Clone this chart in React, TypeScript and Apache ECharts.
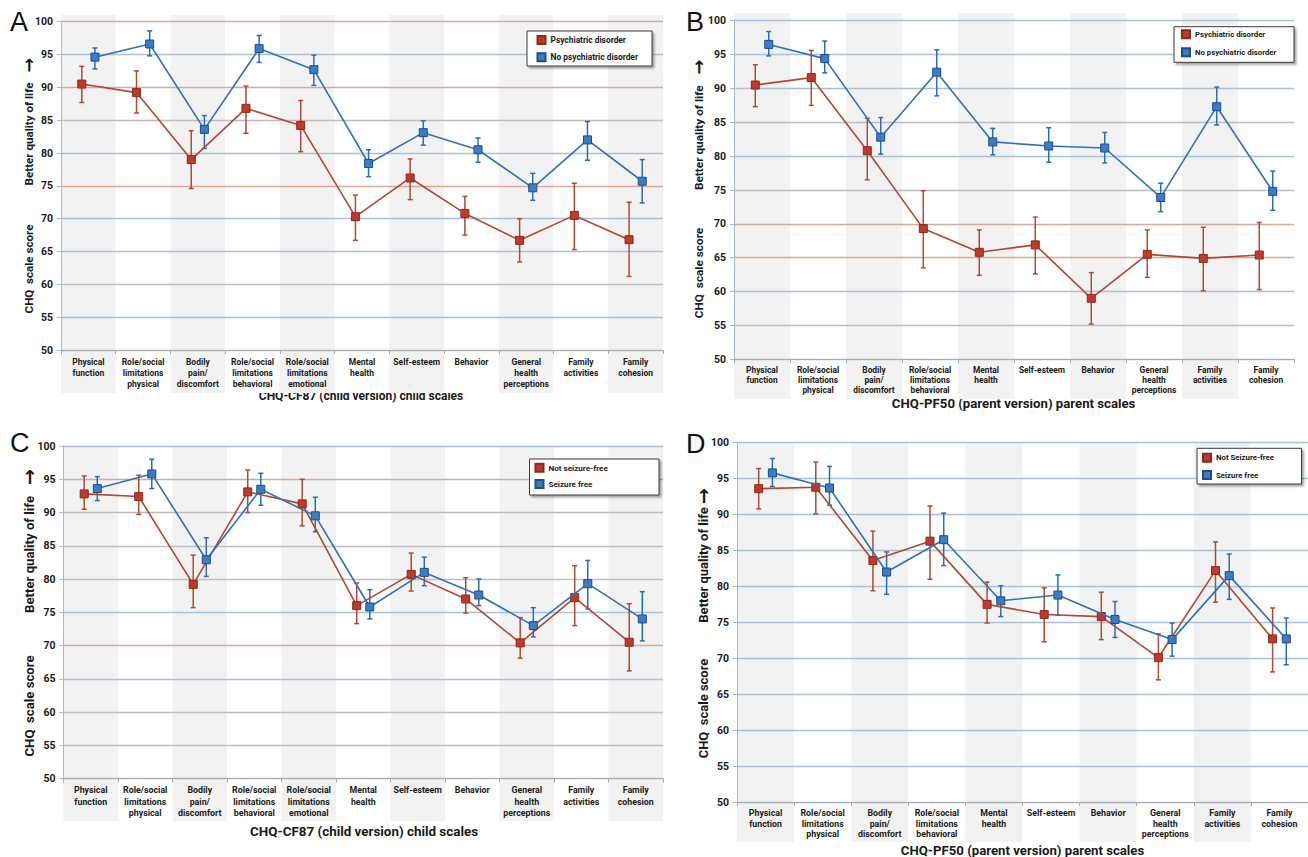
import React, { useEffect, useRef } from "react";
import * as echarts from "echarts";

// ---------- categories ----------
const catsChild = [
  "Physical\nfunction",
  "Role/social\nlimitations\nphysical",
  "Bodily\npain/\ndiscomfort",
  "Role/social\nlimitations\nbehavioral",
  "Role/social\nlimitations\nemotional",
  "Mental\nhealth",
  "Self-esteem",
  "Behavior",
  "General\nhealth\nperceptions",
  "Family\nactivities",
  "Family\ncohesion",
];
const catsParent = [
  "Physical\nfunction",
  "Role/social\nlimitations\nphysical",
  "Bodily\npain/\ndiscomfort",
  "Role/social\nlimitations\nbehavioral",
  "Mental\nhealth",
  "Self-esteem",
  "Behavior",
  "General\nhealth\nperceptions",
  "Family\nactivities",
  "Family\ncohesion",
];
const yTicks = [50, 55, 60, 65, 70, 75, 80, 85, 90, 95, 100];

// ---------- Panel A (CHQ-CF87, psychiatric disorder) ----------
const aRedMean = [90.5, 89.2, 79.0, 86.8, 84.2, 70.3, 76.2, 70.8, 66.7, 70.5, 66.8];
const aRedLow = [87.7, 86.1, 74.6, 83.0, 80.2, 66.7, 72.9, 67.5, 63.4, 65.3, 61.2];
const aRedHigh = [93.2, 92.5, 83.4, 90.2, 88.0, 73.6, 79.1, 73.4, 70.0, 75.4, 72.5];
const aBlueMean = [94.6, 96.6, 83.6, 95.9, 92.7, 78.4, 83.1, 80.5, 74.7, 82.0, 75.7];
const aBlueLow = [92.8, 94.8, 80.7, 93.8, 90.3, 76.4, 81.2, 78.6, 72.8, 78.9, 72.4];
const aBlueHigh = [96.0, 98.6, 85.7, 97.9, 94.9, 80.5, 84.9, 82.3, 76.9, 84.8, 79.0];

// ---------- Panel B (CHQ-PF50, psychiatric disorder) ----------
const bRedMean = [90.5, 91.6, 80.8, 69.3, 65.8, 66.9, 59.0, 65.5, 64.9, 65.4];
const bRedLow = [87.3, 87.5, 76.5, 63.5, 62.4, 62.6, 55.2, 62.1, 60.1, 60.3];
const bRedHigh = [93.5, 95.6, 85.6, 74.9, 69.1, 71.0, 62.8, 69.1, 69.5, 70.2];
const bBlueMean = [96.5, 94.4, 82.8, 92.4, 82.1, 81.5, 81.2, 73.9, 87.3, 74.8];
const bBlueLow = [94.8, 92.3, 80.3, 88.9, 80.2, 79.1, 79.0, 71.8, 84.6, 72.0];
const bBlueHigh = [98.4, 97.0, 85.7, 95.7, 84.1, 84.2, 83.5, 76.0, 90.2, 77.8];

// ---------- Panel C (CHQ-CF87, seizure status) ----------
const cRedMean = [92.8, 92.4, 79.2, 93.1, 91.3, 76.0, 80.7, 77.0, 70.4, 77.2, 70.5];
const cRedLow = [90.5, 89.7, 75.7, 90.0, 88.0, 73.3, 78.2, 74.9, 68.1, 73.0, 66.2];
const cRedHigh = [95.5, 95.6, 83.6, 96.4, 95.0, 79.4, 83.9, 80.2, 74.2, 82.0, 76.3];
const cBlueMean = [93.6, 95.8, 82.9, 93.5, 89.5, 75.8, 81.0, 77.6, 73.0, 79.3, 74.0];
const cBlueLow = [91.8, 93.6, 80.4, 91.1, 87.1, 74.0, 79.0, 76.0, 71.3, 75.5, 70.7];
const cBlueHigh = [95.4, 98.0, 86.2, 95.9, 92.3, 78.4, 83.3, 80.0, 75.7, 82.8, 78.1];

// ---------- Panel D (CHQ-PF50, seizure status) ----------
const dRedMean = [93.6, 93.8, 83.6, 86.3, 77.5, 76.1, 75.8, 70.1, 82.2, 72.7];
const dRedLow = [90.8, 90.1, 79.4, 81.0, 74.9, 72.3, 72.6, 67.0, 77.8, 68.1];
const dRedHigh = [96.4, 97.3, 87.7, 91.2, 80.6, 79.8, 79.2, 73.4, 86.2, 77.0];
const dBlueMean = [95.8, 93.7, 82.0, 86.5, 78.0, 78.8, 75.4, 72.6, 81.5, 72.7];
const dBlueLow = [93.9, 91.3, 78.9, 82.9, 75.8, 76.0, 72.9, 70.3, 78.2, 69.1];
const dBlueHigh = [97.8, 96.7, 84.8, 90.2, 80.1, 81.6, 77.9, 74.9, 84.5, 75.6];

const FONT = "Roboto, 'Noto Sans', 'Liberation Sans', sans-serif";
const W = 700;
const TEXT = "#1a1a1a";
const RED_LINE = "#b5472f";
const RED_FILL = "#c0392b";
const RED_EDGE = "#8a2a1c";
const RED_ERR = "#b04a38";
const BLUE_LINE = "#2e72bd";
const BLUE_FILL = "#3b7dc4";
const BLUE_EDGE = "#1d4e89";
const BLUE_ERR = "#2b6cb5";
const GB = "#a9c2d8"; // blue-grey grid
const GR = "#d9aa9a"; // salmon grid
const GG = "#bcc0c6"; // grey grid

const panels = [
  {
    cats: catsChild,
    red: { name: "Psychiatric disorder", mean: aRedMean, low: aRedLow, high: aRedHigh },
    blue: { name: "No psychiatric disorder", mean: aBlueMean, low: aBlueLow, high: aBlueHigh },
    plot: { left: 61, right: 645, top: 21.7, bottom: 507 },
    bg: { top: 15, bottom: 464 },
    gridColors: [GG, GB, GG, GB, GB, GR, GB, "#c8b9b9", GR, GB, GR],
    legendBox: { x: 527, y: 31, w: 125, h: 35 },
    legend: { left: 536.5, top: 34, gap: 5.3, size: 8.4 },
    letter: { text: "A", x: 10, y: 22 },
    title: { text: "CHQ-CF87 (child version) child scales", x: 361, y: 395.5, size: 12 },
    yname: { x: 29, better: 134, chq: 269, arrow: 65, size: 11.6 },
    catSize: 8.5,
    catLine: 11,
  },
  {
    cats: catsParent,
    red: { name: "Psychiatric disorder", mean: bRedMean, low: bRedLow, high: bRedHigh },
    blue: { name: "No psychiatric disorder", mean: bBlueMean, low: bBlueLow, high: bBlueHigh },
    plot: { left: 734, right: 14, top: 20.7, bottom: 497.7 },
    bg: { top: 13, bottom: 458 },
    gridColors: [GG, GG, GB, GR, GR, GG, GB, "#b4bfca", GB, GB, GB],
    legendBox: { x: 1174, y: 26.7, w: 120, h: 35.6 },
    legend: { left: 1181, top: 28.3, gap: 6, size: 7.8 },
    letter: { text: "B", x: 686, y: 22 },
    title: { text: "CHQ-PF50 (parent version) parent scales", x: 1013.6, y: 403, size: 13.2 },
    yname: { x: 698.5, better: 137.7, chq: 273, arrow: 67, size: 11.8 },
    catSize: 8.4,
    catLine: 10,
  },
  {
    cats: catsChild,
    red: { name: "Not seizure-free", mean: cRedMean, low: cRedLow, high: cRedHigh },
    blue: { name: "Seizure free", mean: cBlueMean, low: cBlueLow, high: cBlueHigh },
    plot: { left: 63.5, right: 645, top: 446, bottom: 78.4 },
    bg: { top: 446, bottom: 36 },
    gridColors: [GG, GG, GG, GB, GR, GB, GG, GG, "#c0b8c4", GR, GB],
    legendBox: { x: 529.5, y: 459, w: 129.5, h: 36 },
    legend: { left: 534.5, top: 461.7, gap: 4.3, size: 8.1 },
    letter: { text: "C", x: 10, y: 443 },
    title: { text: "CHQ-CF87 (child version) child scales", x: 364, y: 831.7, size: 13.4 },
    yname: { x: 29, better: 554.5, chq: 706, arrow: 477, size: 13.2 },
    catSize: 8.8,
    catLine: 11.5,
  },
  {
    cats: catsParent,
    red: { name: "Not Seizure-free", mean: dRedMean, low: dRedLow, high: dRedHigh },
    blue: { name: "Seizure free", mean: dBlueMean, low: dBlueLow, high: dBlueHigh },
    plot: { left: 737, right: -11, top: 442.7, bottom: 55 },
    bg: { top: 443, bottom: 15 },
    gridColors: [GB, GB, GB, GB, GB, GB, GB, GB, GB, GB, GB],
    legendBox: { x: 1197, y: 448.3, w: 104.5, h: 35.7 },
    legend: { left: 1202, top: 451.7, gap: 5.3, size: 7.8 },
    letter: { text: "D", x: 686, y: 444 },
    title: { text: "CHQ-PF50 (parent version) parent scales", x: 1022.5, y: 850, size: 13.2 },
    yname: { x: 703, better: 565, chq: 708.5, arrow: 496, size: 13 },
    catSize: 8.8,
    catLine: 10.5,
  },
];

const OFFSET = 0.12;

function errRender(color: string) {
  return (params: any, api: any) => {
    const x = api.value(0);
    const lo = api.value(1);
    const hi = api.value(2);
    const pt = api.coord([x, hi]);
    const pb = api.coord([x, lo]);
    const w = 2.5;
    const style = { stroke: color, lineWidth: 1.5 };
    return {
      type: "group",
      children: [
        { type: "line", shape: { x1: pt[0], y1: pt[1], x2: pb[0], y2: pb[1] }, style },
        { type: "line", shape: { x1: pt[0] - w, y1: pt[1], x2: pt[0] + w, y2: pt[1] }, style },
        { type: "line", shape: { x1: pb[0] - w, y1: pb[1], x2: pb[0] + w, y2: pb[1] }, style },
      ],
    };
  };
}

function rotText(text: string, x: number, y: number, size: number, family: string) {
  return {
    type: "text",
    x,
    y,
    rotation: Math.PI / 2,
    style: {
      text,
      fontFamily: family,
      fontSize: size,
      fontWeight: W,
      fill: TEXT,
      align: "center",
      verticalAlign: "middle",
    },
  };
}

function buildOption() {
  const grid: any[] = [];
  const xAxis: any[] = [];
  const yAxis: any[] = [];
  const series: any[] = [];
  const legend: any[] = [];
  const graphic: any[] = [];

  panels.forEach((p, k) => {
    const n = p.cats.length;
    grid.push({ left: p.plot.left, right: p.plot.right, top: p.bg.top, bottom: p.bg.bottom, containLabel: false });
    grid.push({ left: p.plot.left, right: p.plot.right, top: p.plot.top, bottom: p.plot.bottom, containLabel: false });
    const gBg = 2 * k;
    const gPl = 2 * k + 1;

    xAxis.push({
      type: "category",
      gridIndex: gBg,
      data: p.cats,
      boundaryGap: true,
      axisLine: { show: false },
      axisTick: { show: false },
      axisLabel: { show: false },
      splitLine: { show: false },
      splitArea: { show: true, interval: 0, areaStyle: { color: ["#f2f2f2", "#ffffff"] } },
      z: 0,
    });
    xAxis.push({
      type: "category",
      gridIndex: gPl,
      data: p.cats,
      boundaryGap: true,
      axisLine: { show: true, onZero: false, lineStyle: { color: "#a6acb3", width: 1 } },
      axisTick: { show: true, length: 4, interval: 0, lineStyle: { color: "#a6acb3" } },
      axisLabel: {
        interval: 0,
        margin: 6,
        fontFamily: FONT,
        fontSize: p.catSize,
        fontWeight: W,
        color: TEXT,
        lineHeight: p.catLine,
      },
      splitLine: { show: false },
      z: 1,
    });
    xAxis.push({ type: "value", gridIndex: gPl, min: -0.5, max: n - 0.5, show: false });

    yAxis.push({ type: "value", gridIndex: gBg, show: false, min: 0, max: 1 });
    yAxis.push({
      type: "value",
      gridIndex: gPl,
      min: yTicks[0],
      max: yTicks[yTicks.length - 1],
      interval: yTicks[1] - yTicks[0],
      axisLine: { show: true, onZero: false, lineStyle: { color: "#a8b8c8" } },
      axisTick: { show: true, length: 4, lineStyle: { color: "#a8b8c8" } },
      axisLabel: { margin: 8, fontFamily: FONT, fontSize: 10.5, fontWeight: W, color: TEXT },
      splitLine: { show: true, lineStyle: { color: p.gridColors, width: 1.3 } },
      z: 1,
    });

    const xv = 3 * k + 2;
    const yv = 2 * k + 1;

    series.push({
      type: "custom",
      name: p.red.name + " CI",
      xAxisIndex: xv,
      yAxisIndex: yv,
      renderItem: errRender(RED_ERR),
      encode: { x: 0, y: [1, 2] },
      data: p.red.mean.map((_, i) => [i - OFFSET, p.red.low[i], p.red.high[i]]),
      z: 2,
      silent: true,
    });
    series.push({
      type: "custom",
      name: p.blue.name + " CI",
      xAxisIndex: xv,
      yAxisIndex: yv,
      renderItem: errRender(BLUE_ERR),
      encode: { x: 0, y: [1, 2] },
      data: p.blue.mean.map((_, i) => [i + OFFSET, p.blue.low[i], p.blue.high[i]]),
      z: 2,
      silent: true,
    });
    series.push({
      type: "line",
      name: p.red.name,
      xAxisIndex: xv,
      yAxisIndex: yv,
      data: p.red.mean.map((v, i) => [i - OFFSET, v]),
      symbol: "rect",
      symbolSize: 8,
      lineStyle: { color: RED_LINE, width: 1.6 },
      itemStyle: { color: RED_FILL, borderColor: RED_EDGE, borderWidth: 1 },
      z: 3,
    });
    series.push({
      type: "line",
      name: p.blue.name,
      xAxisIndex: xv,
      yAxisIndex: yv,
      data: p.blue.mean.map((v, i) => [i + OFFSET, v]),
      symbol: "rect",
      symbolSize: 8,
      lineStyle: { color: BLUE_LINE, width: 1.6 },
      itemStyle: { color: BLUE_FILL, borderColor: BLUE_EDGE, borderWidth: 1 },
      z: 4,
    });

    legend.push({
      orient: "vertical",
      left: p.legend.left,
      top: p.legend.top,
      padding: 0,
      itemGap: p.legend.gap,
      itemWidth: 8,
      itemHeight: 8,
      icon: "rect",
      selectedMode: false,
      data: [p.red.name, p.blue.name],
      textStyle: { fontFamily: FONT, fontSize: p.legend.size, fontWeight: W, color: TEXT, lineHeight: 12 },
      z: 6,
    });

    graphic.push({
      type: "rect",
      z: 5,
      shape: { x: p.legendBox.x, y: p.legendBox.y, width: p.legendBox.w, height: p.legendBox.h },
      style: {
        fill: "#ffffff",
        stroke: "#3a3a3a",
        lineWidth: 1,
        shadowColor: "rgba(0,0,0,0.35)",
        shadowOffsetX: 2,
        shadowOffsetY: 2,
        shadowBlur: 2,
      },
    });
    graphic.push({
      type: "text",
      x: p.letter.x,
      y: p.letter.y,
      style: {
        text: p.letter.text,
        fontFamily: "'Liberation Sans', Arial, sans-serif",
        fontSize: 27,
        fill: "#111",
        align: "left",
        verticalAlign: "middle",
      },
    });
    graphic.push({
      type: "text",
      x: p.title.x,
      y: p.title.y,
      style: {
        text: p.title.text,
        fontFamily: FONT,
        fontSize: p.title.size,
        fontWeight: W,
        fill: TEXT,
        align: "center",
        verticalAlign: "middle",
      },
    });
    graphic.push(rotText("Better quality of life", p.yname.x, p.yname.better, p.yname.size, FONT));
    graphic.push(rotText("\u2192", p.yname.x, p.yname.arrow, p.yname.size + 6, "'DejaVu Sans', sans-serif"));
    graphic.push(rotText("CHQ  scale score", p.yname.x, p.yname.chq, p.yname.size, FONT));
  });

  return {
    animation: false,
    backgroundColor: "#ffffff",
    textStyle: { fontFamily: FONT },
    grid,
    xAxis,
    yAxis,
    legend,
    graphic,
    series,
  };
}

export default function App() {
  const ref = useRef<HTMLDivElement>(null);
  useEffect(() => {
    if (!ref.current) return;
    const chart = echarts.init(ref.current, undefined, { renderer: "svg" });
    chart.setOption(buildOption() as any);
    return () => chart.dispose();
  }, []);
  return (
    <div
      ref={ref}
      style={{ position: "fixed", left: 0, top: 0, width: 1308, height: 857, background: "#fff" }}
    />
  );
}
